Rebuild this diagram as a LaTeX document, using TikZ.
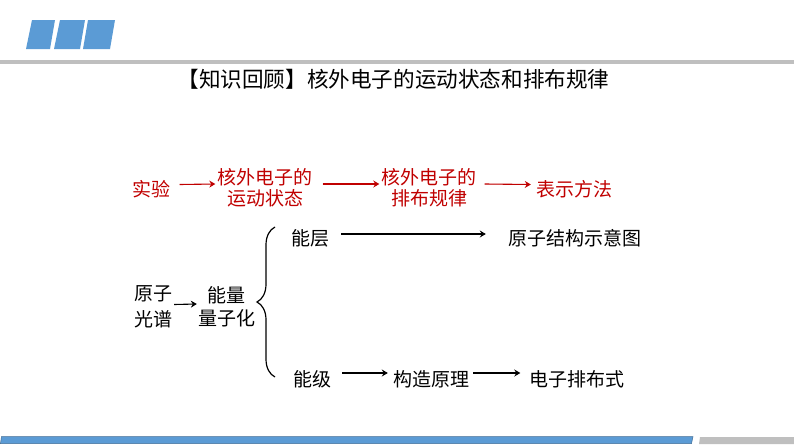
\documentclass[tikz,border=0pt]{standalone}
\usepackage{fontspec}
\setmainfont{Noto Sans CJK SC}
\usetikzlibrary{arrows.meta,decorations.pathreplacing}
\definecolor{barblue}{RGB}{91,155,213}
\definecolor{bargray}{RGB}{191,191,191}
\definecolor{darkred}{RGB}{192,0,0}

\begin{document}
\begin{tikzpicture}[x=1pt,y=-1pt,
        word/.style={inner sep=0pt,align=center,font=\fontsize{19}{21}\selectfont},
        redword/.style={word,text=darkred},
        arr/.style={-{Stealth[length=6pt,width=7pt,inset=2pt]},line width=1.1pt},
        redarr/.style={arr,draw=darkred,fill=darkred}]
                \useasboundingbox (0,0) rectangle (794,447);

                \fill[barblue](26, 49) -- (32, 20) -- (55, 20) -- (50, 49) -- cycle;
                \fill[barblue](54, 49) -- (60, 20) -- (85, 20) -- (80, 49) -- cycle;
                \fill[barblue](83, 49) -- (88, 20) -- (115, 20) -- (110, 49) -- cycle;
                \fill[bargray](0, 60) rectangle (794, 64);

                \node[inner sep=0pt, font=\fontsize{21.6}{24}\selectfont](title) at (393.5, 79.5) {【知识回顾】核外电子的运动状态和排布规律};

                \node[redword](sy) at (151.5, 189.5) {实验};
                \node[redword](zt) at (265, 188) {核外电子的\\运动状态};
                \node[redword](gl) at (429, 188) {核外电子的\\排布规律};
                \node[redword](ff) at (574, 189.5) {表示方法};
                \draw[redarr]([xshift=9pt, yshift=5pt]sy.east) to ([xshift=-2pt, yshift=4pt]zt.west);
                \draw[redarr]([xshift=10pt, yshift=4pt]zt.east) to ([xshift=-2pt, yshift=4pt]gl.west);
                \draw[redarr]([xshift=8pt, yshift=4pt]gl.east) to ([xshift=-5pt, yshift=5pt]ff.west);

                \node[word, font=\fontsize{19}{26}\selectfont](gp) at (153, 306.5) {原子\\光谱};
                \node[word, font=\fontsize{19}{23}\selectfont](lz) at (226.5, 307) {能量\\量子化};
                \draw[arr]([xshift=2pt, yshift=2pt]gp.east) to ([xshift=-1pt, yshift=3pt]lz.west);

                \draw[line width=1.2pt, decorate, decoration={brace, amplitude=18pt}](275, 377) to (275, 227);

                \node[word](nc) at (310, 238) {能层};
                \node[word](sy2) at (574.5, 238) {原子结构示意图};
                \draw[arr]([xshift=12pt, yshift=4pt]nc.east) to ([xshift=-22pt, yshift=4pt]sy2.west);

                \node[word](nj) at (312, 379) {能级};
                \node[word](yl) at (431, 379) {构造原理};
                \node[word](pb) at (577, 379) {电子排布式};
                \draw[arr]([xshift=11pt, yshift=6pt]nj.east) to ([xshift=-5pt, yshift=6pt]yl.west);
                \draw[arr]([xshift=4pt, yshift=6pt]yl.east) to ([xshift=-9pt, yshift=6pt]pb.west);

                \draw[draw=barblue!70!black, fill=barblue, line width=.5pt](0.5, 443.5) -- (1.5, 436.5) -- (693, 436.5) -- (691.5, 443.5) -- cycle;
                \fill[bargray](700, 437) -- (699, 444) -- (794, 444) -- (794, 437) -- cycle;
\end{tikzpicture}
\end{document}
